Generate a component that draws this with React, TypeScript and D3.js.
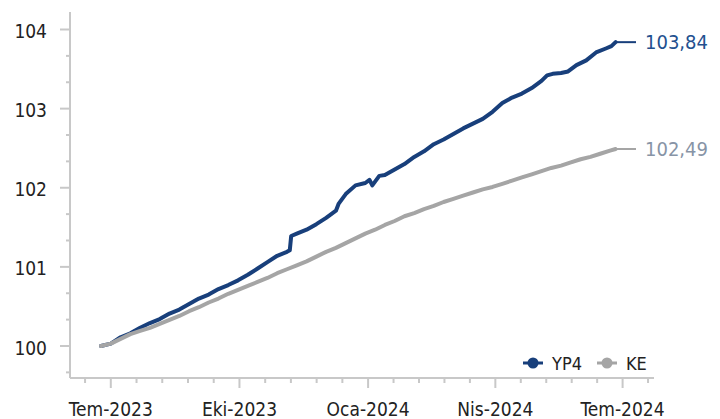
import React from "react";
import * as d3 from "d3";

const blueDates = ["2023-06-24","2023-07-01","2023-07-08","2023-07-15","2023-07-22","2023-07-29","2023-08-05","2023-08-12","2023-08-19","2023-08-26","2023-09-02","2023-09-09","2023-09-16","2023-09-23","2023-09-30","2023-10-07","2023-10-14","2023-10-21","2023-10-28","2023-11-04","2023-11-06","2023-11-07","2023-11-11","2023-11-18","2023-11-25","2023-12-02","2023-12-09","2023-12-11","2023-12-16","2023-12-23","2023-12-30","2024-01-02","2024-01-04","2024-01-09","2024-01-13","2024-01-20","2024-01-27","2024-02-03","2024-02-10","2024-02-17","2024-02-24","2024-03-02","2024-03-09","2024-03-16","2024-03-23","2024-03-30","2024-04-06","2024-04-13","2024-04-20","2024-04-27","2024-05-04","2024-05-08","2024-05-12","2024-05-18","2024-05-23","2024-05-29","2024-06-05","2024-06-12","2024-06-19","2024-06-23","2024-06-26"];
const blueValues = [100.00,100.03,100.11,100.16,100.23,100.29,100.34,100.41,100.46,100.53,100.60,100.65,100.72,100.77,100.83,100.90,100.98,101.06,101.14,101.19,101.21,101.39,101.42,101.47,101.54,101.62,101.71,101.80,101.92,102.03,102.06,102.10,102.03,102.15,102.16,102.23,102.30,102.39,102.46,102.55,102.61,102.68,102.75,102.81,102.87,102.96,103.07,103.14,103.19,103.26,103.35,103.42,103.44,103.45,103.47,103.55,103.61,103.71,103.76,103.79,103.84];

const grayDates = ["2023-06-24","2023-07-01","2023-07-08","2023-07-15","2023-07-22","2023-07-29","2023-08-05","2023-08-12","2023-08-19","2023-08-26","2023-09-02","2023-09-09","2023-09-16","2023-09-23","2023-09-30","2023-10-07","2023-10-14","2023-10-21","2023-10-28","2023-11-04","2023-11-11","2023-11-18","2023-11-25","2023-12-02","2023-12-09","2023-12-16","2023-12-23","2023-12-30","2024-01-06","2024-01-13","2024-01-20","2024-01-27","2024-02-03","2024-02-10","2024-02-17","2024-02-24","2024-03-02","2024-03-09","2024-03-16","2024-03-23","2024-03-30","2024-04-06","2024-04-13","2024-04-20","2024-04-27","2024-05-04","2024-05-11","2024-05-18","2024-05-25","2024-06-01","2024-06-08","2024-06-15","2024-06-22","2024-06-26"];
const grayValues = [100.00,100.03,100.09,100.15,100.19,100.23,100.28,100.33,100.38,100.44,100.49,100.55,100.60,100.66,100.71,100.76,100.81,100.86,100.92,100.97,101.02,101.07,101.13,101.19,101.24,101.30,101.36,101.42,101.47,101.53,101.58,101.64,101.68,101.73,101.77,101.82,101.86,101.90,101.94,101.98,102.01,102.05,102.09,102.13,102.17,102.21,102.25,102.28,102.32,102.36,102.39,102.43,102.47,102.49];

const seriesNames = ["YP4", "KE"];
const endLabels = ["103,84", "102,49"];
const xTickDates = ["2023-07-01", "2023-10-01", "2024-01-01", "2024-04-01", "2024-07-01"];
const xTickLabels = ["Tem-2023", "Eki-2023", "Oca-2024", "Nis-2024", "Tem-2024"];
const yTicks = [100, 101, 102, 103, 104];

const BLUE = "#183f7b";
const GRAY = "#a5a5a5";
const BLUE_LABEL = "#23508f";
const GRAY_LABEL = "#8794a6";
const AXIS = "#c8c8c8";
const FONT = "'DejaVu Sans Condensed', 'Open Sans', sans-serif";

const parse = d3.timeParse("%Y-%m-%d");

export default function App() {
  const x = d3.scaleTime()
    .domain([parse("2023-07-01")!, parse("2024-07-01")!])
    .range([110.8, 622.6]);
  const y = d3.scaleLinear().domain([100, 104]).range([346, 29.5]);

  const axisLeft = 70;
  const axisRight = 654;
  const axisBottom = 378;
  const axisTop = 12;

  const blue = blueDates.map((d, i) => ({ d: parse(d)!, v: blueValues[i] }));
  const gray = grayDates.map((d, i) => ({ d: parse(d)!, v: grayValues[i] }));
  const line = d3.line<{ d: Date; v: number }>().x(p => x(p.d)).y(p => y(p.v));

  const majorX = xTickDates.map(d => x(parse(d)!));
  const minorX: number[] = [];
  const step0 = (majorX[1] - majorX[0]) / 5;
  minorX.push(majorX[0] - step0);
  for (let i = 0; i < majorX.length - 1; i++) {
    const s = (majorX[i + 1] - majorX[i]) / 5;
    for (let k = 1; k < 5; k++) minorX.push(majorX[i] + k * s);
  }
  const stepN = (majorX[4] - majorX[3]) / 5;
  minorX.push(majorX[4] + stepN);

  const yMinor: number[] = [];
  for (let k = -1; k <= 12; k++) {
    if (k % 3 !== 0) yMinor.push(100 + k / 3);
  }

  const lastBlue = blue[blue.length - 1];
  const lastGray = gray[gray.length - 1];
  const leaderEnd = 636;
  const labelX = 645;

  return (
    <svg width={720} height={419} style={{ position: "absolute", left: 0, top: 0, background: "#fff" }}>
      {/* axes */}
      <line x1={axisLeft} x2={axisLeft} y1={axisTop} y2={axisBottom} stroke={AXIS} strokeWidth={2} />
      <line x1={axisLeft} x2={axisRight} y1={axisBottom} y2={axisBottom} stroke={AXIS} strokeWidth={2} />
      {yTicks.map(t => (
        <g key={"yt" + t}>
          <line x1={60} x2={axisLeft} y1={y(t)} y2={y(t)} stroke={AXIS} strokeWidth={2} />
          <text x={47} y={y(t) + 8.5} textAnchor="end" fontFamily={FONT} fontSize={19} fill="#222">{t}</text>
        </g>
      ))}
      {yMinor.map((t, i) => (
        <line key={"ym" + i} x1={66} x2={axisLeft} y1={y(t)} y2={y(t)} stroke={AXIS} strokeWidth={2} />
      ))}
      {majorX.map((px, i) => (
        <g key={"xt" + i}>
          <line x1={px} x2={px} y1={axisBottom} y2={388} stroke={AXIS} strokeWidth={2} />
          <text x={px} y={416} textAnchor="middle" fontFamily={FONT} fontSize={19} fill="#222">{xTickLabels[i]}</text>
        </g>
      ))}
      {minorX.map((px, i) => (
        <line key={"xm" + i} x1={px} x2={px} y1={axisBottom} y2={383} stroke={AXIS} strokeWidth={2} />
      ))}

      {/* series */}
      <path d={line(blue) || ""} fill="none" stroke={BLUE} strokeWidth={4} strokeLinejoin="round" strokeLinecap="round" />
      <path d={line(gray) || ""} fill="none" stroke={GRAY} strokeWidth={4} strokeLinejoin="round" strokeLinecap="round" />

      {/* end leaders + labels */}
      <line x1={x(lastBlue.d)} x2={leaderEnd} y1={y(lastBlue.v)} y2={y(lastBlue.v)} stroke={BLUE} strokeWidth={2} />
      <text x={labelX} y={y(lastBlue.v) + 7} fontFamily={FONT} fontSize={20} fill={BLUE_LABEL}>{endLabels[0]}</text>
      <line x1={x(lastGray.d)} x2={leaderEnd} y1={y(lastGray.v)} y2={y(lastGray.v)} stroke={GRAY} strokeWidth={2} />
      <text x={labelX} y={y(lastGray.v) + 7} fontFamily={FONT} fontSize={20} fill={GRAY_LABEL}>{endLabels[1]}</text>

      {/* legend */}
      {[{ cx: 533, c: BLUE }, { cx: 607, c: GRAY }].map((m, i) => (
        <g key={"lg" + i}>
          <line x1={m.cx - 10} x2={m.cx + 10} y1={363} y2={363} stroke={m.c} strokeWidth={3} />
          <circle cx={m.cx} cy={363} r={5.5} fill={m.c} />
          <text x={m.cx + 19} y={369.5} fontFamily={FONT} fontSize={18} fill="#222">{seriesNames[i]}</text>
        </g>
      ))}
    </svg>
  );
}
